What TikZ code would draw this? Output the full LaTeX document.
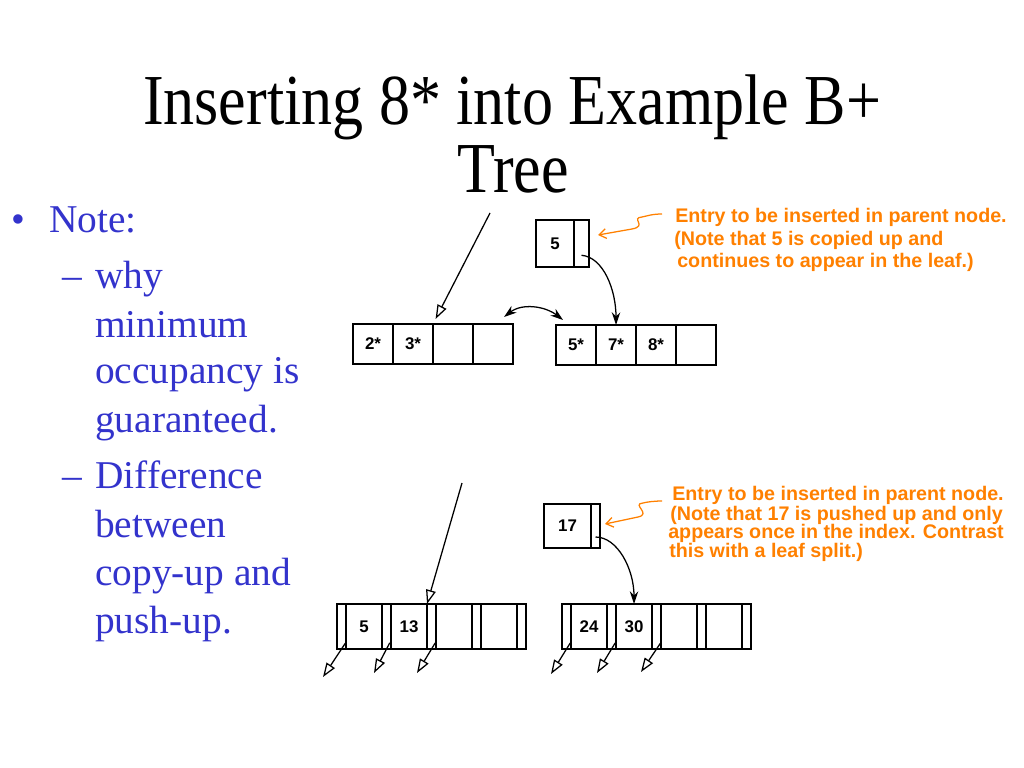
\documentclass[tikz,border=0pt]{standalone}
\usepackage{fontspec}
\setmainfont{Liberation Serif}
\setsansfont{Liberation Sans}
\usetikzlibrary{positioning,arrows.meta,calc}

\definecolor{itemblue}{RGB}{51,51,204}
\definecolor{noteorange}{RGB}{255,128,0}

\tikzset{
  cell/.style={draw, line width=1pt, minimum width=1cm, minimum height=1cm, inner sep=0pt, outer sep=0pt,
    font=\sffamily\bfseries\fontsize{12}{14}\selectfont},
  slot/.style={draw, line width=1pt, minimum width=0.225cm, minimum height=1.125cm, inner sep=0pt, outer sep=0pt},
  key/.style={draw, line width=1pt, minimum width=0.9cm, minimum height=1.125cm, inner sep=0pt, outer sep=0pt,
    font=\sffamily\bfseries\fontsize{12}{14}\selectfont},
  ptr/.style={line width=0.9pt, -{Triangle[open,length=10pt,width=7pt]}},
  curvearrow/.style={line width=0.9pt, -{Stealth[length=9pt,width=6pt]}},
  squig/.style={noteorange, line width=0.9pt, -{Straight Barb[length=5pt,width=7pt]}},
  note/.style={text=noteorange, font=\sffamily\bfseries\fontsize{14}{16}\selectfont, inner sep=0pt, anchor=base west},
  item/.style={text=itemblue, font=\fontsize{28}{34}\selectfont, inner sep=0pt, anchor=base west},
  heading/.style={font=\fontsize{51}{58}\selectfont, inner sep=0pt, anchor=base}
}

\begin{document}
\begin{tikzpicture}[x=0.025cm, y=-0.025cm]
  \useasboundingbox (0,0) rectangle (1024,768);

  % Title
  \node[heading] (head1) at (512,125) {\scalebox{0.865}[1]{Inserting 8* into Example B+}};
  \node[heading] (head2) at (513,192) {\scalebox{0.865}[1]{Tree}};

  % Bullets
  \node[item] (dot) at (11,232) {\textbullet};
  \node[item] (note) at (49,232) {Note:};
  \node[item] (dash1) at (62,288) {--};
  \node[item] (w1) at (95,288) {why};
  \node[item] (w2) at (95,337) {minimum};
  \node[item] (w3) at (95,383) {occupancy is};
  \node[item] (w4) at (95,432) {guaranteed.};
  \node[item] (dash2) at (62,488) {--};
  \node[item] (w5) at (95,488) {Difference};
  \node[item] (w6) at (95,537) {between};
  \node[item] (w7) at (95,585) {copy-up and};
  \node[item] (w8) at (95,633) {push-up.};

  % Leaf split: two leaves
  \node[cell] (a1) at (373,344) {2*};
  \node[cell, right=0pt of a1] (a2) {3*};
  \node[cell, right=0pt of a2] (a3) {};
  \node[cell, right=0pt of a3] (a4) {};
  \node[cell] (b1) at (576,345) {5*};
  \node[cell, right=0pt of b1] (b2) {7*};
  \node[cell, right=0pt of b2] (b3) {8*};
  \node[cell, right=0pt of b3] (b4) {};

  % Entry 5 for the parent
  \node[cell, minimum width=0.95cm, minimum height=1.175cm] (p5) at (555,243.5) {5};
  \node[cell, minimum width=0.375cm, minimum height=1.175cm, right=0pt of p5] (p5s) {};

  % Arrows of the leaf split
  \coordinate (top1) at (490,213);
  \draw[ptr, shorten >=4pt] (top1) -- (a2.north east);
  \draw[curvearrow] ($(p5s.center)!0.5!(p5s.south)$) .. controls +(22,2) and +(0,-35) .. (b2.north);
  \draw[line width=0.9pt, {Stealth[length=9pt,width=6pt]}-{Stealth[length=9pt,width=6pt]}]
    ([shift={(-9,-7)}]a4.north east) .. controls +(18,-14) and +(-18,-14) .. ([shift={(7,-5)}]b1.north west);

  % Note for the leaf split
  \node[note] (t1) at (675,222) {Entry to be inserted in parent node.};
  \node[note] (t2) at (674,245) {(Note that 5 is copied up and};
  \node[note] (t3) at (677,267) {continues to appear in the leaf.)};
  \draw[squig] ([shift={(-13,-8)}]t1.base west) .. controls +(-10,0) and +(5,-1) .. ++(-20,3)
    .. controls +(-12,1) and +(16,-3) .. ++(-10,12) -- ([shift={(9,-8.5)}]p5s.east);

  % Index split: two index nodes
  \node[slot] (ls1) at (341.5,626.5) {};
  \node[key, right=0pt of ls1] (lk1) {5};
  \node[slot, right=0pt of lk1] (ls2) {};
  \node[key, right=0pt of ls2] (lk2) {13};
  \node[slot, right=0pt of lk2] (ls3) {};
  \node[key, right=0pt of ls3] (lk3) {};
  \node[slot, right=0pt of lk3] (ls4) {};
  \node[key, right=0pt of ls4] (lk4) {};
  \node[slot, right=0pt of lk4] (ls5) {};

  \node[slot] (rs1) at (566.5,626.5) {};
  \node[key, right=0pt of rs1] (rk1) {24};
  \node[slot, right=0pt of rk1] (rs2) {};
  \node[key, right=0pt of rs2] (rk2) {30};
  \node[slot, right=0pt of rk2] (rs3) {};
  \node[key, right=0pt of rs3] (rk3) {};
  \node[slot, right=0pt of rk3] (rs4) {};
  \node[key, right=0pt of rs4] (rk4) {};
  \node[slot, right=0pt of rk4] (rs5) {};

  % Entry 17 for the parent
  \node[key, minimum width=1.175cm, minimum height=1.1cm] (p17) at (567.5,526) {17};
  \node[slot, minimum height=1.1cm, right=0pt of p17] (p17s) {};

  % Arrows of the index split
  \coordinate (top2) at (462,483);
  \draw[ptr] (top2) -- (lk2.north east);
  \draw[curvearrow] ($(p17s.center)!0.5!(p17s.south)$) .. controls +(22,0) and +(0,-35) .. (rk2.north);

  % Child pointers
  \coordinate (c1) at (323,677);
  \coordinate (c2) at (374,673);
  \coordinate (c3) at (417,673);
  \coordinate (c4) at (551,674);
  \coordinate (c5) at (597,673);
  \coordinate (c6) at (641,672);
  \draw[ptr, shorten <=-5pt] (ls1.south) -- (c1);
  \draw[ptr, shorten <=-5pt] (ls2.south) -- (c2);
  \draw[ptr, shorten <=-5pt] (ls3.south) -- (c3);
  \draw[ptr, shorten <=-5pt] (rs1.south) -- (c4);
  \draw[ptr, shorten <=-5pt] (rs2.south) -- (c5);
  \draw[ptr, shorten <=-5pt] (rs3.south) -- (c6);

  % Note for the index split
  \node[note] (t4) at (672,500) {Entry to be inserted in parent node.};
  \node[note] (t5) at (670,520) {(Note that 17 is pushed up and only};
  \node[note] (t6) at (668,538) {appears once in the index. Contrast};
  \node[note] (t7) at (669,557) {this with a leaf split.)};
  \draw[squig] ([shift={(-10,1)}]t4.base west) .. controls +(-8,0) and +(4,-1) .. ++(-19,2)
    .. controls +(-12,1) and +(14,-3) .. ++(-5,14) -- ([shift={(5,-2)}]p17s.east);
\end{tikzpicture}
\end{document}
